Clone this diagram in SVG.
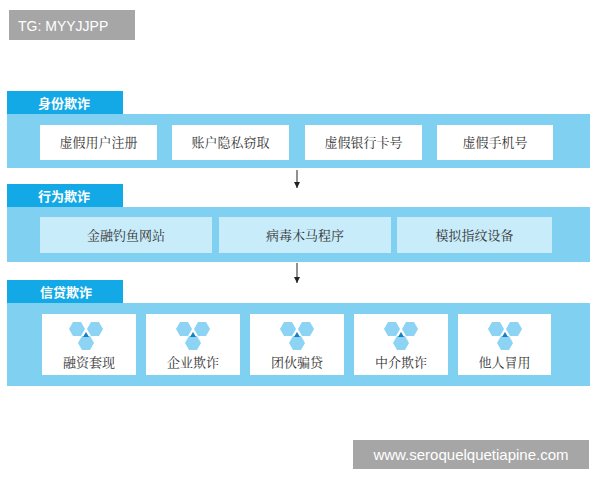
<svg xmlns="http://www.w3.org/2000/svg" width="600" height="480" viewBox="0 0 600 480">
<style>
.tab{fill:#12a9e6}
.band{fill:#80d1f1}
.box{fill:#ffffff}
.lbox{fill:#c8ecfa}
.tt{font-family:"Noto Sans CJK SC",sans-serif;font-size:13px;font-weight:bold;fill:#fff}
.bt{font-family:"Noto Serif CJK SC","Noto Sans CJK SC",serif;font-size:13px;fill:#333;text-anchor:middle}
.hx{fill:#8dd3f3}
.wm{font-family:"Liberation Sans",sans-serif;font-size:15px;fill:#fff}
</style>
<defs>
<marker id="ar" markerWidth="8" markerHeight="8" refX="7" refY="4" orient="auto" markerUnits="userSpaceOnUse">
<path d="M1,1 L7,4 L1,7 Z" fill="#222"/>
</marker>
<g id="icon">
<polygon class="hx" points="-17,-10 -13,-17 -5,-17 -1,-10 -5,-3 -13,-3"/>
<polygon class="hx" points="1,-10 5,-17 13,-17 17,-10 13,-3 5,-3"/>
<polygon class="hx" points="-8,4 -4,-3 4,-3 8,4 4,11 -4,11"/>
<polygon points="0,-7 3,-2 -3,-2" fill="#1a7fc4"/>
</g>
</defs>
<rect x="9" y="10" width="126" height="30" fill="#a6a6a6"/>
<text x="18" y="31" class="wm" style="font-size:14px">TG: MYYJJPP</text>

<g id="s1">
<rect class="band" x="7" y="114" width="583" height="54"/>
<rect class="tab" x="7" y="91" width="116" height="23"/>
<text x="38" y="108" class="tt">身份欺诈</text>
<rect class="box" x="40" y="125" width="117" height="35"/><text class="bt" x="98.5" y="147">虚假用户注册</text>
<rect class="box" x="172" y="125" width="117" height="35"/><text class="bt" x="230.5" y="147">账户隐私窃取</text>
<rect class="box" x="305" y="125" width="117" height="35"/><text class="bt" x="363.5" y="147">虚假银行卡号</text>
<rect class="box" x="437" y="125" width="116" height="35"/><text class="bt" x="495" y="147">虚假手机号</text>
</g>
<g id="s2">
<rect class="band" x="7" y="207" width="583" height="55"/>
<rect class="tab" x="7" y="184" width="116" height="23"/>
<text x="38" y="201" class="tt">行为欺诈</text>
<rect class="lbox" x="40" y="217" width="172" height="36"/><text class="bt" x="126" y="240">金融钓鱼网站</text>
<rect class="lbox" x="219" y="217" width="172" height="36"/><text class="bt" x="305" y="240">病毒木马程序</text>
<rect class="lbox" x="397" y="217" width="155" height="36"/><text class="bt" x="474.5" y="240">模拟指纹设备</text>
</g>
<g id="s3">
<rect class="band" x="7" y="303" width="583" height="83"/>
<rect class="tab" x="7" y="280" width="116" height="23"/>
<text x="40" y="297" class="tt">信贷欺诈</text>
<rect class="box" x="42" y="314" width="94" height="61"/><use href="#icon" x="86" y="339"/><text class="bt" x="89" y="367">融资套现</text>
<rect class="box" x="146" y="314" width="94" height="61"/><use href="#icon" x="193" y="339"/><text class="bt" x="193" y="367">企业欺诈</text>
<rect class="box" x="250" y="314" width="94" height="61"/><use href="#icon" x="297" y="339"/><text class="bt" x="297" y="367">团伙骗贷</text>
<rect class="box" x="354" y="314" width="94" height="61"/><use href="#icon" x="401" y="339"/><text class="bt" x="401" y="367">中介欺诈</text>
<rect class="box" x="458" y="314" width="93" height="61"/><use href="#icon" x="505" y="339"/><text class="bt" x="504.5" y="367">他人冒用</text>
</g>
<g id="connectors" stroke="#222" stroke-width="1">
<line x1="297" y1="170" x2="297" y2="188" marker-end="url(#ar)"/>
<line x1="297" y1="263" x2="297" y2="283" marker-end="url(#ar)"/>
</g>
<rect x="353" y="440" width="236" height="29" fill="#a6a6a6"/>
<text x="471" y="460" class="wm" text-anchor="middle">www.seroquelquetiapine.com</text>
</svg>
